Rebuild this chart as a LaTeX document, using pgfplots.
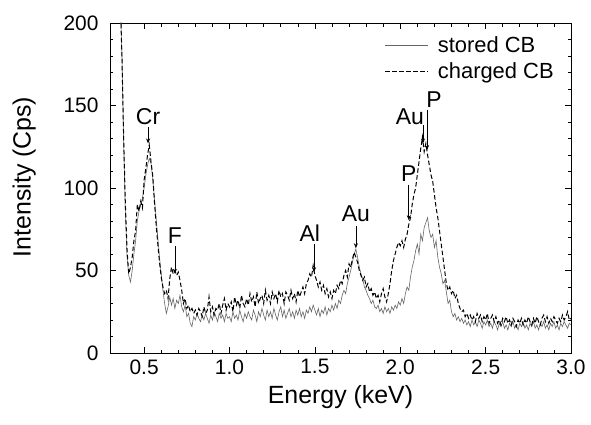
\documentclass[border=0pt]{standalone}
\usepackage{fontspec}
\setmainfont{Liberation Sans}
\usepackage{pgfplots}
\pgfplotsset{compat=1.18}
\usepackage{pgfplotstable}
\usetikzlibrary{arrows.meta}

\pgfplotstableread{
x y
0.35 280
0.36 215
0.37 180
0.38 128
0.39 85
0.40 58
0.41 47
0.42 43
0.43 50
0.44 60
0.45 68
0.46 80
0.47 86
0.48 90
0.49 94
0.50 100
0.51 108
0.52 114
0.53 118
0.54 115
0.55 106
0.56 94
0.57 82
0.58 70
0.59 58
0.60 48
0.61 38
0.62 30
0.63 24
0.64 28
0.65 34
0.66 29
0.67 33
0.68 27
0.69 32
0.70 30
0.71 35
0.72 28
0.73 25
0.74 29
0.75 22
0.76 24
0.77 18
0.78 16
0.79 22
0.80 20
0.81 24
0.82 21
0.83 19
0.84 23
0.85 20
0.86 24
0.87 21
0.88 18
0.89 23
0.90 20
0.91 25
0.92 22
0.93 19
0.94 24
0.95 21
0.96 23
0.97 19
0.98 24
0.99 21
1.00 22
1.01 19
1.02 25
1.03 21
1.04 23
1.05 20
1.06 26
1.07 22
1.08 19
1.09 24
1.10 21
1.11 25
1.12 22
1.13 20
1.14 26
1.15 23
1.16 19
1.17 25
1.18 22
1.19 27
1.20 23
1.21 20
1.22 26
1.23 22
1.24 25
1.25 21
1.26 27
1.27 23
1.28 20
1.29 25
1.30 28
1.31 22
1.32 26
1.33 21
1.34 24
1.35 27
1.36 22
1.37 25
1.38 21
1.39 26
1.40 23
1.41 27
1.42 22
1.43 25
1.44 21
1.45 26
1.46 24
1.47 28
1.48 25
1.49 29
1.50 26
1.51 23
1.52 27
1.53 22
1.54 26
1.55 24
1.56 28
1.57 23
1.58 27
1.59 25
1.60 29
1.61 26
1.62 30
1.63 27
1.64 32
1.65 30
1.66 35
1.67 38
1.68 36
1.69 42
1.70 46
1.71 50
1.72 55
1.73 60
1.74 63
1.75 58
1.76 52
1.77 48
1.78 45
1.79 40
1.80 38
1.81 35
1.82 33
1.83 30
1.84 32
1.85 28
1.86 27
1.87 29
1.88 25
1.89 27
1.90 24
1.91 28
1.92 25
1.93 27
1.94 24
1.95 28
1.96 26
1.97 29
1.98 27
1.99 31
2.00 29
2.01 33
2.02 30
2.03 36
2.04 40
2.05 38
2.06 46
2.07 52
2.08 56
2.09 62
2.10 66
2.11 60
2.12 72
2.13 68
2.14 76
2.15 79
2.16 82
2.17 74
2.18 70
2.19 72
2.20 64
2.21 68
2.22 58
2.23 52
2.24 48
2.25 42
2.26 44
2.27 37
2.28 30
2.29 32
2.30 25
2.31 22
2.32 24
2.33 20
2.34 22
2.35 19
2.36 21
2.37 18
2.38 20
2.39 17
2.40 19
2.41 16
2.42 20
2.43 17
2.44 19
2.45 16
2.46 20
2.47 18
2.48 15
2.49 19
2.50 17
2.51 20
2.52 16
2.53 18
2.54 15
2.55 19
2.56 17
2.57 14
2.58 18
2.59 16
2.60 19
2.61 15
2.62 17
2.63 14
2.64 18
2.65 16
2.66 19
2.67 15
2.68 17
2.69 14
2.70 18
2.71 16
2.72 19
2.73 15
2.74 17
2.75 14
2.76 18
2.77 16
2.78 19
2.79 15
2.80 17
2.81 14
2.82 18
2.83 16
2.84 19
2.85 15
2.86 17
2.87 14
2.88 18
2.89 16
2.90 19
2.91 15
2.92 17
2.93 14
2.94 18
2.95 16
2.96 19
2.97 17
2.98 15
2.99 18
3.00 17
}\stored

\pgfplotstableread{
x y
0.35 280
0.36 215
0.37 180
0.38 130
0.39 90
0.40 62
0.41 48
0.42 52
0.43 58
0.44 68
0.45 74
0.46 90
0.47 86
0.48 92
0.49 88
0.50 105
0.51 112
0.52 120
0.53 126
0.54 116
0.55 108
0.56 92
0.57 78
0.58 66
0.59 55
0.60 46
0.61 40
0.62 36
0.63 38
0.64 33
0.65 45
0.66 52
0.67 48
0.68 50
0.69 47
0.70 49
0.71 44
0.72 38
0.73 30
0.74 33
0.75 27
0.76 29
0.77 25
0.78 27
0.79 24
0.80 26
0.81 23
0.82 27
0.83 25
0.84 22
0.85 28
0.86 24
0.87 26
0.88 34
0.89 25
0.90 28
0.91 23
0.92 27
0.93 26
0.94 30
0.95 24
0.96 29
0.97 33
0.98 26
0.99 30
1.00 28
1.01 31
1.02 25
1.03 34
1.04 29
1.05 32
1.06 27
1.07 35
1.08 30
1.09 28
1.10 33
1.11 29
1.12 36
1.13 31
1.14 34
1.15 28
1.16 37
1.17 30
1.18 33
1.19 35
1.20 30
1.21 38
1.22 32
1.23 35
1.24 30
1.25 37
1.26 33
1.27 36
1.28 31
1.29 38
1.30 34
1.31 36
1.32 30
1.33 37
1.34 35
1.35 32
1.36 38
1.37 33
1.38 36
1.39 31
1.40 38
1.41 34
1.42 37
1.43 40
1.44 36
1.45 42
1.46 44
1.47 48
1.48 46
1.49 53
1.50 47
1.51 44
1.52 40
1.53 43
1.54 38
1.55 41
1.56 36
1.57 39
1.58 34
1.59 37
1.60 33
1.61 38
1.62 36
1.63 41
1.64 39
1.65 44
1.66 42
1.67 47
1.68 50
1.69 46
1.70 54
1.71 52
1.72 57
1.73 61
1.74 58
1.75 55
1.76 50
1.77 47
1.78 44
1.79 46
1.80 40
1.81 42
1.82 37
1.83 39
1.84 35
1.85 37
1.86 33
1.87 35
1.88 31
1.89 36
1.90 39
1.91 34
1.92 31
1.93 36
1.94 42
1.95 50
1.96 56
1.97 60
1.98 64
1.99 67
2.00 65
2.01 68
2.02 64
2.03 69
2.04 72
2.05 78
2.06 82
2.07 90
2.08 96
2.09 100
2.10 108
2.11 116
2.12 124
2.13 131
2.14 122
2.15 127
2.16 120
2.17 114
2.18 108
2.19 104
2.20 96
2.21 88
2.22 82
2.23 74
2.24 66
2.25 58
2.26 50
2.27 42
2.28 38
2.29 40
2.30 36
2.31 38
2.32 33
2.33 35
2.34 30
2.35 27
2.36 25
2.37 26
2.38 22
2.39 24
2.40 21
2.41 23
2.42 20
2.43 22
2.44 19
2.45 24
2.46 21
2.47 23
2.48 19
2.49 22
2.50 20
2.51 24
2.52 18
2.53 21
2.54 23
2.55 19
2.56 22
2.57 18
2.58 20
2.59 17
2.60 21
2.61 19
2.62 22
2.63 18
2.64 20
2.65 17
2.66 21
2.67 19
2.68 16
2.69 20
2.70 18
2.71 21
2.72 17
2.73 20
2.74 18
2.75 22
2.76 19
2.77 17
2.78 21
2.79 18
2.80 22
2.81 19
2.82 17
2.83 21
2.84 23
2.85 19
2.86 22
2.87 18
2.88 21
2.89 19
2.90 22
2.91 20
2.92 18
2.93 21
2.94 19
2.95 23
2.96 20
2.97 22
2.98 25
2.99 20
3.00 21
}\charged

\begin{document}
\begin{tikzpicture}
\begin{axis}[
  name=ax,
  scale only axis,
  width=461bp, height=330bp,
  xmin=0.3, xmax=3.0, ymin=0, ymax=200,
  xtick={0.5,1.0,1.5,2.0,2.5,3.0},
  ytick={0,50,100,150,200},
  minor x tick num=4, minor y tick num=4,
  tick align=inside,
  major tick length=6bp, minor tick length=3.5bp,
  every tick/.style={black, line width=0.6bp},
  axis line style={line width=0.8bp},
  /pgf/number format/assume math mode=true,
  x tick label style={/pgf/number format/fixed, /pgf/number format/fixed zerofill, /pgf/number format/precision=1, yshift=-3bp},
  y tick label style={/pgf/number format/fixed, /pgf/number format/precision=0, xshift=-8bp},
  tick label style={font=\fontsize{21}{25}\selectfont},
  xlabel={Energy (keV)},
  ylabel={Intensity (Cps)},
  label style={font=\fontsize{25}{30}\selectfont},
  xlabel style={yshift=-4bp},
  ylabel style={yshift=21bp, xshift=11bp},
  legend style={draw=none, fill=none, at={(rel axis cs:0.965,0.963)}, anchor=north east,
    font=\fontsize{22}{26}\selectfont, row sep=7bp, inner sep=0pt,
    nodes={inner sep=1bp}},
  legend cell align=left,
  legend image code/.code={\draw[#1] (0bp,0bp) -- (43bp,0bp); \path (51bp,0bp);},
  clip=true,
]
\addplot[gray!80!black, line width=0.6bp] table[x=x,y=y] {\stored};
\addlegendentry{stored CB}
\addplot[black, line width=1bp, dash pattern=on 4.5bp off 2.5bp] table[x=x,y=y] {\charged};
\addlegendentry{charged CB}

\begin{scope}[every node/.style={font=\fontsize{23}{27}\selectfont, inner sep=0pt}]
\node[anchor=south] at (axis cs:0.523,138.5) {Cr};
\draw[-{Stealth[length=5bp,width=4bp]}, line width=0.6bp] (axis cs:0.523,137) -- (axis cs:0.523,127);
\node[anchor=south] at (axis cs:0.68,66) {F};
\draw[-{Stealth[length=5bp,width=4bp]}, line width=0.6bp] (axis cs:0.68,65) -- (axis cs:0.68,48);
\node[anchor=south] at (axis cs:1.47,67.5) {Al};
\draw[-{Stealth[length=5bp,width=4bp]}, line width=0.6bp] (axis cs:1.495,66) -- (axis cs:1.495,49);
\node[anchor=south] at (axis cs:1.74,79.5) {Au};
\draw[-{Stealth[length=5bp,width=4bp]}, line width=0.6bp] (axis cs:1.74,77) -- (axis cs:1.74,63.5);
\node[anchor=south] at (axis cs:2.05,104) {P};
\draw[-{Stealth[length=5bp,width=4bp]}, line width=0.6bp] (axis cs:2.05,102) -- (axis cs:2.05,80.5);
\node[anchor=south east] at (axis cs:2.14,138.5) {Au};
\draw[-{Stealth[length=5bp,width=4bp]}, line width=0.6bp] (axis cs:2.133,138) -- (axis cs:2.133,127);
\node[anchor=south west] at (axis cs:2.152,148.5) {P};
\draw[-{Stealth[length=5bp,width=4bp]}, line width=0.6bp] (axis cs:2.157,147) -- (axis cs:2.157,123);
\end{scope}
\end{axis}
\path (ax.south west) ++(-110bp,-72bp) coordinate (bl);
\path (ax.north east) ++(20bp,23bp) coordinate (tr);
\path (bl) rectangle (tr);
\end{tikzpicture}
\end{document}
